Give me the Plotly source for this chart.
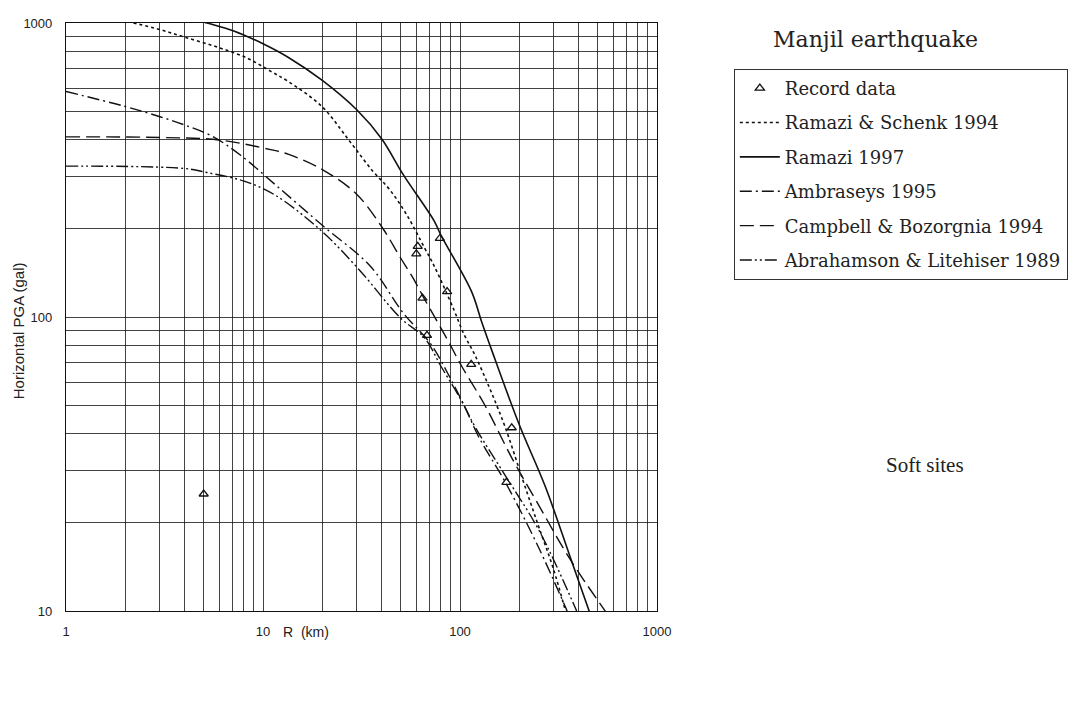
import plotly.graph_objects as go

# ---------------- data ----------------
record_R = [5, 60, 61, 64.5, 68, 79, 86, 114, 183, 172]
record_P = [25, 164, 174, 116, 86.6, 185, 122, 69, 42, 27.4]

schenk_R = [2.2, 3, 4, 5.8, 8.3, 10.9, 13.4, 19.9, 27.4, 36, 44, 54, 66, 74, 93, 105, 117, 129, 145, 170, 208, 250, 297, 346]
schenk_P = [1000, 950, 895, 830, 760, 686, 633, 520, 398, 314, 271, 221, 172, 149, 106, 87, 76, 66, 55, 42, 28, 19.5, 14, 9.8]

ramazi97_R = [4, 5.2, 7.1, 10, 13.4, 20, 30, 40, 51.5, 74, 80, 114.5, 129, 145, 200, 271, 362, 470]
ramazi97_P = [1050, 1000, 940, 850, 765, 638, 506, 404, 305, 212, 190, 122, 96, 77, 43, 26.5, 15.3, 9.3]

ambraseys_R = [1, 2, 3, 4, 5.6, 7.7, 11.9, 20, 35, 51.6, 71, 87, 105, 124, 172, 250, 350]
ambraseys_P = [585, 520, 480, 450, 410, 355, 277, 205, 149, 103, 81, 64, 50, 39.3, 27, 16.5, 10]

campbell_R = [1, 3, 6, 10.9, 13.4, 19.9, 29.8, 40.6, 49.6, 58, 65.6, 77, 87, 102, 134, 184, 250, 362, 557]
campbell_P = [410, 408, 400, 371, 358, 318, 262, 200, 160, 135, 116, 96, 83, 68, 50, 33, 23, 15, 9.8]

abraham_R = [1, 4, 5.2, 8, 11.5, 20, 31, 50, 66, 80, 100, 120, 172, 254, 391]
abraham_P = [326, 320, 310, 290, 260, 195, 144, 99, 85, 68, 53, 42, 28.5, 18.6, 10]

x_ticks = [1, 10, 100, 1000]
y_ticks = [10, 100, 1000]
x_tick_text = ["1", "10", "100", "1000"]
y_tick_text = ["10", "100", "1000"]

# ---------------- figure ----------------
fig = go.Figure()
line_col = "#111111"

fig.add_trace(go.Scatter(x=record_R, y=record_P, mode="markers", name="Record data",
                         legendgroup="a",
                         marker=dict(symbol="triangle-up-open", size=8, color=line_col,
                                     line=dict(width=1.3, color=line_col))))
fig.add_trace(go.Scatter(x=schenk_R, y=schenk_P, mode="lines", name="Ramazi &amp; Schenk 1994",
                         legendgroup="b", line=dict(color=line_col, width=1.6, dash="dot", shape="spline")))
fig.add_trace(go.Scatter(x=ramazi97_R, y=ramazi97_P, mode="lines", name="Ramazi 1997",
                         legendgroup="c", line=dict(color=line_col, width=1.6, shape="spline")))
fig.add_trace(go.Scatter(x=ambraseys_R, y=ambraseys_P, mode="lines", name="Ambraseys 1995",
                         legendgroup="d", line=dict(color=line_col, width=1.4, dash="12px,4px,2px,4px", shape="spline")))
fig.add_trace(go.Scatter(x=campbell_R, y=campbell_P, mode="lines", name="Campbell &amp; Bozorgnia 1994",
                         legendgroup="e", line=dict(color=line_col, width=1.4, dash="14px,6px", shape="spline")))
fig.add_trace(go.Scatter(x=abraham_R, y=abraham_P, mode="lines", name="Abrahamson &amp; Litehiser 1989",
                         legendgroup="f", line=dict(color=line_col, width=1.4, dash="12px,3px,2px,3px,2px,3px", shape="spline")))

minor_x = [m * d for d in [1, 10, 100] for m in range(2, 10)]
minor_y = [m * d for d in [10, 100] for m in range(2, 10)]

grid_col = "rgba(20,20,20,0.8)"
tick_font = dict(family="Liberation Sans", size=13, color="#222")
fig.update_xaxes(type="log", range=[0, 3], tickvals=x_ticks, ticktext=x_tick_text,
                 showgrid=True, gridcolor=grid_col, gridwidth=1,
                 minor=dict(tickvals=minor_x, showgrid=True, gridcolor=grid_col, gridwidth=1),
                 showline=True, linecolor="#111", linewidth=1.2, mirror=True,
                 ticks="", tickfont=tick_font, ticklabelstandoff=8, zeroline=False)
fig.update_yaxes(type="log", range=[1, 3], tickvals=y_ticks, ticktext=y_tick_text,
                 showgrid=True, gridcolor=grid_col, gridwidth=1,
                 minor=dict(tickvals=minor_y, showgrid=True, gridcolor=grid_col, gridwidth=1),
                 showline=True, linecolor="#111", linewidth=1.2, mirror=True,
                 ticks="", tickfont=tick_font, ticklabelstandoff=10, zeroline=False)

fig.update_layout(
    width=1080, height=707,
    margin=dict(l=58, r=431, t=8, b=104),
    paper_bgcolor="white", plot_bgcolor="white",
    showlegend=True,
    legend=dict(x=1.13, y=0.922, xanchor="left", yanchor="top",
                bordercolor="#333", borderwidth=1, bgcolor="white",
                font=dict(family="DejaVu Serif", size=18, color="#222"),
                tracegroupgap=8, itemwidth=40),
    annotations=[
        dict(text="Manjil earthquake", xref="paper", yref="paper", x=1.369, y=0.972,
             xanchor="center", yanchor="middle", showarrow=False,
             font=dict(family="DejaVu Serif", size=22, color="#222")),
        dict(text="Soft sites", xref="paper", yref="paper", x=1.4535, y=0.248,
             xanchor="center", yanchor="middle", showarrow=False,
             font=dict(family="Liberation Serif", size=21, color="#222")),
        dict(text="R  (km)", xref="paper", yref="paper", x=0.406, y=-0.0356,
             xanchor="center", yanchor="middle", showarrow=False,
             font=dict(family="Liberation Sans", size=14, color="#222")),
        dict(text="Horizontal PGA (gal)", xref="paper", yref="paper", x=-0.081, y=0.476,
             xanchor="center", yanchor="middle", showarrow=False, textangle=-90,
             font=dict(family="Liberation Sans", size=15, color="#222")),
    ],
)

fig.write_html("out.html")
